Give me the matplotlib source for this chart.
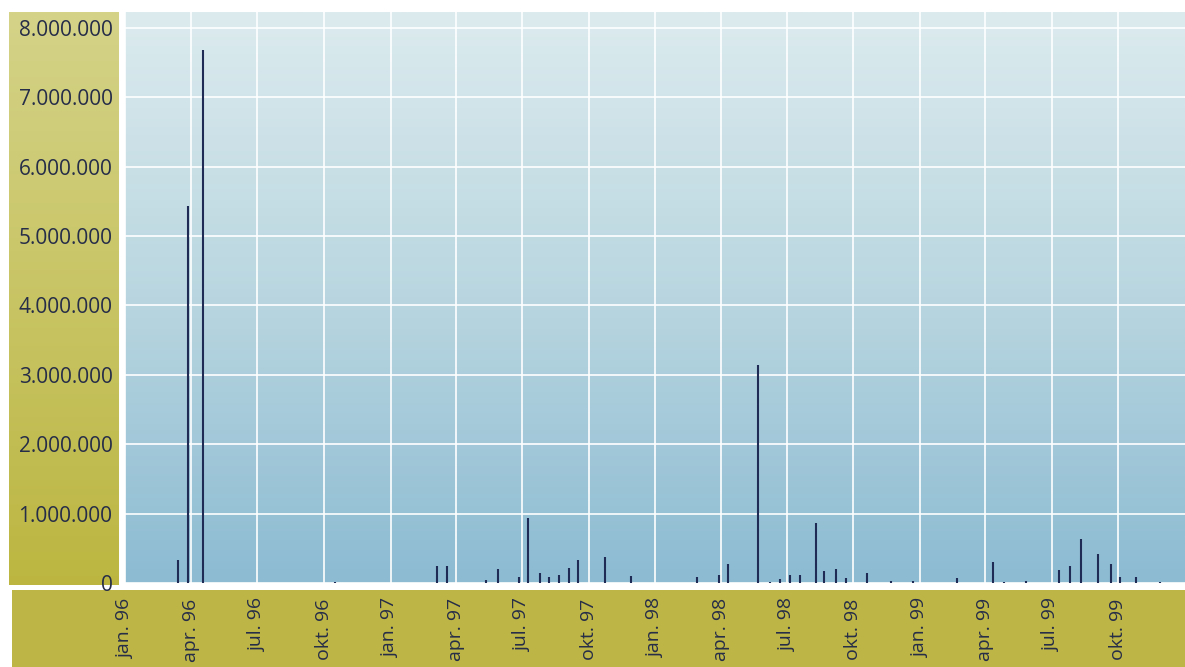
import numpy as np
import pandas as pd
import matplotlib.pyplot as plt
import matplotlib.dates as mdates
from matplotlib.colors import LinearSegmentedColormap

# Data (date, value)
dates = ["1996-03-14", "1996-03-28", "1996-04-17", "1996-10-17",
         "1997-03-06", "1997-03-20", "1997-05-13", "1997-05-29", "1997-06-27",
         "1997-07-09", "1997-07-26", "1997-08-08", "1997-08-21", "1997-09-04",
         "1997-09-17", "1997-10-23", "1997-11-28",
         "1998-02-27", "1998-03-30", "1998-04-11", "1998-05-23", "1998-06-08",
         "1998-06-22", "1998-07-05", "1998-07-19", "1998-08-11", "1998-08-22",
         "1998-09-07", "1998-09-21", "1998-10-20", "1998-11-22", "1998-12-22",
         "1999-02-21", "1999-04-12", "1999-04-26", "1999-05-27", "1999-07-12",
         "1999-07-26", "1999-08-10", "1999-09-03", "1999-09-21", "1999-10-03",
         "1999-10-26", "1999-11-27"]
values = [330000, 5430000, 7680000, 20000,
          245000, 245000, 40000, 200000, 90000,
          940000, 150000, 80000, 120000, 220000,
          330000, 380000, 100000,
          90000, 120000, 270000, 3140000, 20000,
          60000, 110000, 120000, 860000, 180000,
          200000, 70000, 150000, 30000, 30000,
          70000, 300000, 20000, 30000, 190000,
          240000, 640000, 420000, 280000, 90000,
          90000, 20000]

tick_dates = pd.date_range("1996-01-01", "1999-10-01", freq="QS")
tick_labels = ["jan. 96", "apr. 96", "jul. 96", "okt. 96",
               "jan. 97", "apr. 97", "jul. 97", "okt. 97",
               "jan. 98", "apr. 98", "jul. 98", "okt. 98",
               "jan. 99", "apr. 99", "jul. 99", "okt. 99"]
y_ticks = [0, 1000000, 2000000, 3000000, 4000000, 5000000, 6000000, 7000000, 8000000]

plt.rcParams['font.family'] = ['Open Sans', 'DejaVu Sans']
text_col = "#262d48"

W, H = 1185, 667
fig = plt.figure(figsize=(W / 100, H / 100), dpi=100, facecolor="white")

def fbox(x0, y0, x1, y1):
    # pixel box (top-left origin) -> figure fraction rect
    return [x0 / W, 1 - y1 / H, (x1 - x0) / W, (y1 - y0) / H]

# olive panels
left_panel = fig.add_axes(fbox(9, 12, 119, 585))
left_panel.imshow(np.linspace(0, 1, 256).reshape(-1, 1), aspect="auto",
                  cmap=LinearSegmentedColormap.from_list("l", ["#d4d388", "#bcb641"]),
                  extent=[0, 1, 0, 1])
left_panel.axis("off")

bottom_panel = fig.add_axes(fbox(12, 590, W, H))
bottom_panel.set_facecolor("#bdb545")
bottom_panel.set_xticks([])
bottom_panel.set_yticks([])
for s in bottom_panel.spines.values():
    s.set_visible(False)

# main plot
ax = fig.add_axes(fbox(125, 12, W, 583))
ax.set_zorder(5)
x = pd.to_datetime(dates)
x0, x1 = pd.Timestamp("1996-01-01"), pd.Timestamp("2000-01-01")
ylim_top = 8230000

grad = np.linspace(1, 0, 256).reshape(-1, 1)
ax.imshow(grad, aspect="auto", zorder=0,
          cmap=LinearSegmentedColormap.from_list("b", ["#8cbbd2", "#b9d6e0", "#dcebee"]),
          extent=[mdates.date2num(x0), mdates.date2num(x1), 0, ylim_top])

ax.vlines(x, 0, values, color="#1f2a55", linewidth=1.5, zorder=3)

ax.set_xlim(x0, x1)
ax.set_ylim(0, ylim_top)
ax.set_xticks(tick_dates)
ax.set_xticklabels(tick_labels, rotation=90, fontsize=14, color=text_col, va="top")
ax.set_yticks(y_ticks)
ax.set_yticklabels([f"{v:,.0f}".replace(",", ".") for v in y_ticks],
                   fontsize=15, color=text_col)
ax.tick_params(axis="x", length=0, pad=11)
ax.tick_params(axis="y", length=0, pad=9)
ax.grid(True, color="white", linewidth=1.2, zorder=1)
ax.set_axisbelow(True)
for s in ax.spines.values():
    s.set_visible(False)

fig.savefig("out.png", dpi=100, facecolor="white")
